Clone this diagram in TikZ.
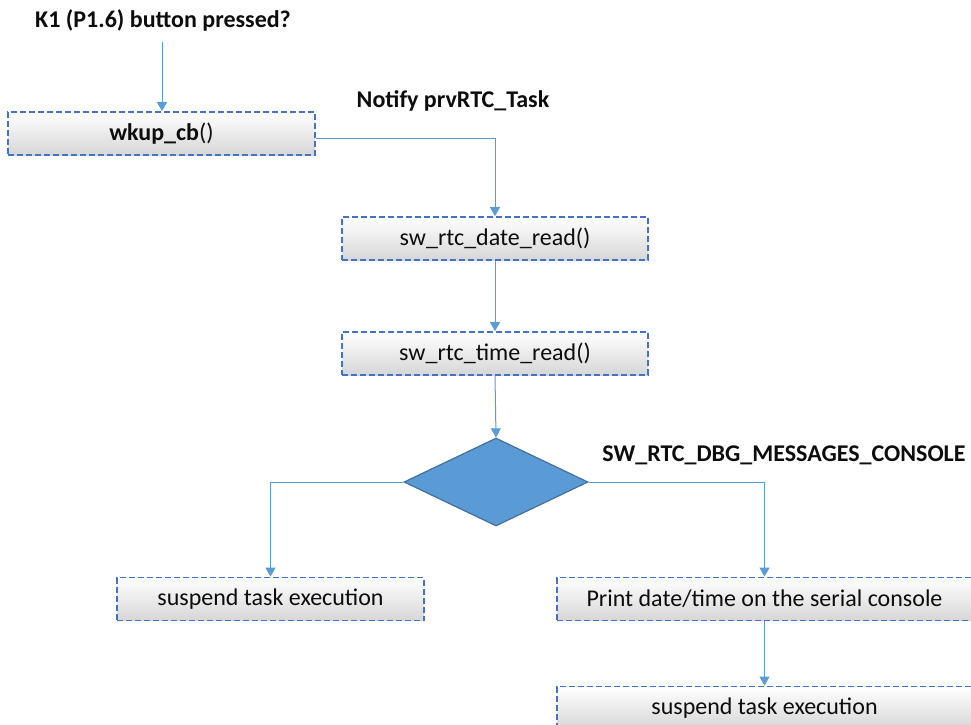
\documentclass[tikz,border=0pt]{standalone}
\usepackage{fontspec}
\setmainfont{Carlito}
\usetikzlibrary{arrows.meta,shapes.geometric}
\definecolor{boxblue}{HTML}{4472C4}
\definecolor{arrblue}{HTML}{5B9BD5}
\definecolor{dmdedge}{HTML}{41719C}
\definecolor{txt}{HTML}{0D0D0D}
\tikzset{
  box/.style={draw=boxblue, dash pattern=on 6pt off 3pt, line width=1.8pt,
    top color=white, middle color=black!3, bottom color=black!16, minimum height=43pt, inner sep=0pt,
    font=\fontsize{24}{28}\selectfont, text=txt},
  arr/.style={draw=arrblue, line width=1pt, -{Triangle[width=10pt,length=9pt]}},
  lbl/.style={font=\fontsize{24}{28}\selectfont\bfseries, inner sep=0pt, text=txt},
  dmd/.style={diamond, fill=arrblue, draw=dmdedge, line width=1.2pt, inner sep=0pt,
    minimum width=184pt, minimum height=88pt}
}
\begin{document}
\begin{tikzpicture}[x=1pt,y=-1pt]
\clip (0,0) rectangle (971,724);
\fill[white] (0,0) rectangle (971,724);
\node[lbl] (k1) at (163,20) {K1 (P1.6) button pressed?};
\node[box, minimum width=307pt] (wk) at (161.5,133.5) {\textbf{wkup\_cb}()};
\node[lbl] (notify) at (453,101) {Notify prvRTC\_Task};
\node[box, minimum width=306pt] (date) at (495,238.5) {sw\_rtc\_date\_read()};
\node[box, minimum width=306pt] (time) at (495,353.5) {sw\_rtc\_time\_read()};
\node[dmd] (d) at (496,482) {};
\node[lbl] (dbg) at (784,455) {SW\_RTC\_DBG\_MESSAGES\_CONSOLE};
\node[box, minimum width=307pt] (s1) at (270.5,599) {suspend task execution};
\node[box, minimum width=415pt] (pr) at (764.5,599) {Print date/time on the serial console};
\node[box, minimum width=415pt] (s2) at (764.5,708) {suspend task execution};
\coordinate (k1b) at (162,42);
\draw[arr] (k1b) -- (wk.north -| k1b);
\draw[arr] (wk.east |- 0,138) -| (date.north);
\draw[arr] (date.south) -- (time.north);
\draw[arr] (time.south) -- (d.north);
\draw[arr] (d.west) -| (s1.north);
\draw[arr] (d.east) -| (pr.north);
\draw[arr] (pr.south) -- (s2.north);
\end{tikzpicture}
\end{document}
